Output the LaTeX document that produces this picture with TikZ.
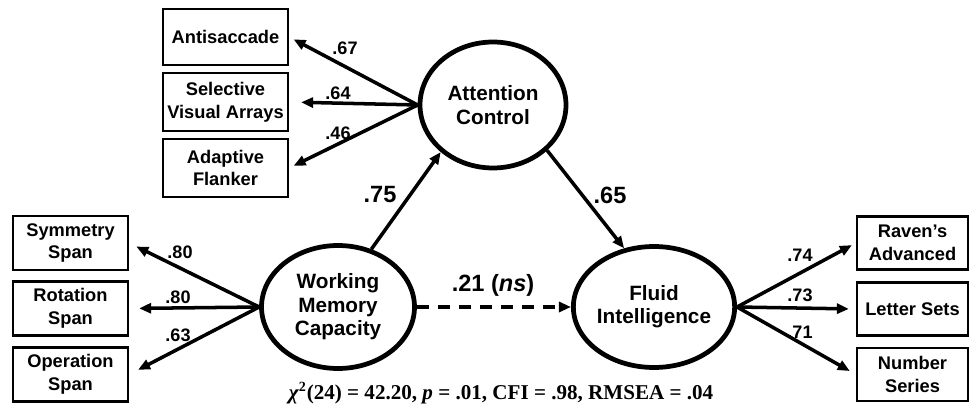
\documentclass[tikz,border=0pt]{standalone}
\usepackage{fontspec}
\setmainfont{Liberation Serif}
\setsansfont{Liberation Sans}
\usetikzlibrary{arrows.meta,shapes.geometric}

\begin{document}
\begin{tikzpicture}[x=0.02cm,y=-0.02cm,>={Triangle[length=0.24cm,width=0.2cm]},
  every node/.style={align=center,font=\sffamily\bfseries},
  obs/.style={draw,line width=1.3pt,inner sep=0pt,font=\sffamily\bfseries\fontsize{10.4}{12.9}\selectfont},
  lat/.style={draw,ellipse,line width=2.7pt,inner sep=0pt,font=\sffamily\bfseries\fontsize{11.8}{13.3}\selectfont},
  load/.style={->,line width=2pt,shorten >=0.14cm},
  struct/.style={->,line width=2pt},
  small/.style={font=\sffamily\bfseries\fontsize{10.3}{12}\selectfont},
  big/.style={font=\sffamily\bfseries\fontsize{13.4}{15}\selectfont}]
  \useasboundingbox (0,0) rectangle (969,408);
  % latent factors
  \node[lat,minimum width=2.92cm,minimum height=2.52cm] (ac) at (493,105) {Attention\\Control};
  \node[lat,minimum width=3.06cm,minimum height=2.46cm] (wmc) at (338,307) {Working\\Memory\\Capacity};
  \node[lat,minimum width=3.1cm,minimum height=2.42cm] (gf) at (654,307) {Fluid\\Intelligence};
  % attention control tasks
  \node[obs,minimum width=2.5cm,minimum height=1.12cm] (anti) at (225.5,37) {Antisaccade};
  \node[obs,minimum width=2.5cm,minimum height=1.16cm] (sva) at (225.5,102) {Selective\\Visual Arrays};
  \node[obs,minimum width=2.5cm,minimum height=1.16cm] (flank) at (225.5,168) {Adaptive\\Flanker};
  % span tasks
  \node[obs,minimum width=2.3cm,minimum height=1.08cm] (sym) at (70.5,243) {Symmetry\\Span};
  \node[obs,minimum width=2.3cm,minimum height=1.08cm] (rot) at (70.5,308.5) {Rotation\\Span};
  \node[obs,minimum width=2.3cm,minimum height=1.08cm] (ospan) at (70.5,374.5) {Operation\\Span};
  % reasoning tasks
  \node[obs,minimum width=2.22cm,minimum height=1.06cm] (raven) at (912.5,243) {Raven’s\\Advanced};
  \node[obs,minimum width=2.22cm,minimum height=1.06cm] (lsets) at (912.5,309) {Letter Sets};
  \node[obs,minimum width=2.22cm,minimum height=1.06cm] (nser) at (912.5,374.5) {Number\\Series};
  % loadings
  \draw[load,shorten >=0.1cm] (ac.west) -- (anti.east);
  \draw[load,shorten >=0.24cm] (ac.west) -- (sva.east);
  \draw[load,shorten >=0.1cm] (ac.west) -- (flank.east);
  \draw[load,shorten >=0.16cm] (wmc.west) -- (sym.east);
  \draw[load,shorten >=0.2cm] (wmc.west) -- (rot.east);
  \draw[load,shorten >=0.2cm] (wmc.west) -- (ospan.east);
  \draw[load,shorten >=0.09cm] (gf.east) -- (raven.west);
  \draw[load] (gf.east) -- (lsets.west);
  \draw[load] (gf.east) -- (nser.west);
  \node[small] (l67) at (345,48) {.67};
  \node[small] (l64) at (338,93) {.64};
  \node[small] (l46) at (338,133) {.46};
  \node[small] (l80a) at (180,252) {.80};
  \node[small] (l80b) at (178,297) {.80};
  \node[small] (l63) at (178,335) {.63};
  \node[small] (l74) at (800,255) {.74};
  \node[small] (l73) at (800,295) {.73};
  \node[small] (l71) at (800,332) {.71};
  % structural paths
  \draw[struct] (wmc.60) -- (ac.222);
  \draw[struct] (ac.320) -- (gf.117);
  \draw[struct,line width=2.4pt,dash pattern=on 0.24cm off 0.18cm] (wmc.east) -- (gf.west);
  \node[big] (p75) at (380,195) {.75};
  \node[big] (p65) at (610,195) {.65};
  \node[big] (p21) at (493,285) {.21 (\textit{ns})};
  % fit
  \node[font=\rmfamily\bfseries\fontsize{12}{14}\selectfont] (fit) at (501,393)
    {\textit{χ}\textsuperscript{2}(24) = 42.20, \textit{p} = .01, CFI = .98, RMSEA = .04};
\end{tikzpicture}
\end{document}
